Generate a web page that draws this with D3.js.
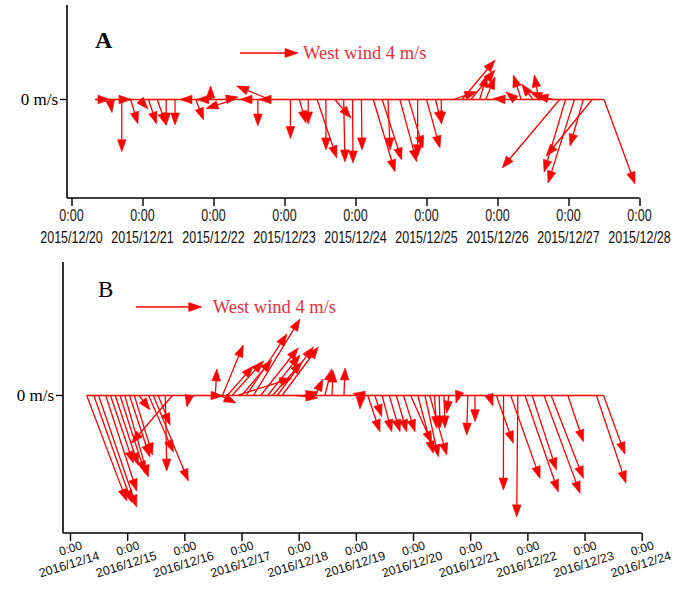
<!DOCTYPE html>
<html><head><meta charset="utf-8">
<script src="https://cdn.jsdelivr.net/npm/d3@7"></script>
<style>body{margin:0;background:#fff}svg{display:block}</style>
</head><body>
<svg id="chart" width="676" height="599"></svg>
<script>
// ---------- Panel A (2015/12/20 – 2015/12/28), hours after 2015/12/20 0:00 ----------
const hoursA = [8,13,16,17,20,23,26,29,32,35, 40,42,46,47,52,55,60,63,66,67, 74,77,80,83,86,89,92,95,98,102,
  105,107,111,114,117,120,123,125,129,132, 135,138,140,147,150,152,156,158,161,163, 165,167,170,173,176,180];
const uA = [1.02,0.14,0.84,0,0.5,0.59,0.57,0.6,0,0, -0.68,0.54,-0.75,0,0.88,-1.94,-0.62,0,-0.53,-2.28,
  0,0.46,0,1.36,0,1.12,0.09,0.03,0.04,1.5, 1.35,0.14,1.16,0.98,0,0.93,0.43,0,1.63,2.28,
  1.66,0.48,0.64,-0.92,-0.64,-0.54,-0.78,-0.32,-1.23,-1.22, -3.97,-1.48,-1.82,-0.92,-3.17,2.14];
const vA = [0,-0.9,0,-3.6,-1.69,-0.66,-1.69,-1.76,-1.76,-1.76, 0,-1.41,0,0.93,0.17,-0.62,0,-1.83,0,0.93,
  -2.69,-1.62,-1.69,-4.03,-3.48,-1.28,-4.31,-4.38,-3.48,-4.98, -4.17,-3.48,-4.29,-3.34,-3.94,-3.34,-1.64,-1.69,0.54,2.72,
  2.03,1.69,1.55,0.07,0.52,1.69,1.07,1.69,0.52,0.24, -4.72,-5.0,-5.76,-3.21,-3.9,-5.83];
const tickLabelsA = ["2015/12/20","2015/12/21","2015/12/22","2015/12/23","2015/12/24","2015/12/25","2015/12/26","2015/12/27","2015/12/28"];

// ---------- Panel B (2016/12/14 – 2016/12/24), hours after 2016/12/14 0:00 ----------
const hoursB = [7,10,12,15,17,19,21,23,25,27, 29,33,35,37,40,43,50,59,61,63, 64,66,68,70,72,74,77,80,83,85,
  87,89,95,98,103,107,110,115,122,124, 125,128,131,134,137,140,143,146,149,151, 153,155,157,159,163,167,170,176,179,182,
  185,188,191,194,199,202,209,221,224];
const uB = [2.44,2.31,2.32,1.89,1.39,1.40,1.52,1.43,1.24,1.11, 0.66,1.51,2.13,0.73,0.09,-2.49,-0.13,0.76,0.09,0.97,
  1.27,1.59,1.91,3.35,1.84,2.48,2.84,2.3,1.97,1.8, 2.2,2.21,1.32,0.89,0.46,0.41,0.06,0.07,-0.04,-0.76,
  0.74,0.41,0.59,0.66,0.63,0.7,1.29,0.94,0.82,1.04, 0.14,0.05,0.06,-0.12,-0.14,-0.07,0.01,0.23,1.03,-0.01,
  1.79,-0.07,2.03,1.48,2.2,1.96,0.95,1.8,1.3];
const vB = [-6.43,-6.52,-6.8,-5.82,-4.12,-4.24,-4.73,-4.97,-3.75,-3.63, -0.88,-3.45,-5.21,-1.81,-4.6,-2.9,-0.7,-0.03,1.62,-0.46,
  3.08,1.8,2.1,1.05,2.16,3.75,4.66,2.9,2.47,2.04, 2.96,2.96,-0.15,0.21,1.0,1.62,1.55,1.68,-0.82,0.12,
  -2.21,-1.29,-2.21,-2.21,-2.21,-2.21,-2.91,-3.52,-3.73,-3.63, -2.0,-1.98,-1.98,-1.07,-0.46,-2.41,-1.6,-0.64,-2.91,-5.76,
  -5.05,-7.39,-5.87,-4.54,-5.96,-5.05,-2.82,-5.34,-3.57];
const tickLabelsB = ["2016/12/14","2016/12/15","2016/12/16","2016/12/17","2016/12/18","2016/12/19","2016/12/20","2016/12/21","2016/12/22","2016/12/23","2016/12/24"];

const legendSpeed = 4;
const RED = "#ff0000";
const svg = d3.select("#chart");
const parse = d3.timeParse("%Y/%m/%d");

function arrow(g, x0, y0, x1, y1, hl, hw, sw) {
  const dx = x1 - x0, dy = y1 - y0, len = Math.hypot(dx, dy) || 1;
  const ux = dx / len, uy = dy / len, px = -uy, py = ux;
  const bx = x1 - ux * hl, by = y1 - uy * hl;
  if (len > hl) g.append("line").attr("x1", x0).attr("y1", y0).attr("x2", bx).attr("y2", by)
      .attr("stroke", RED).attr("stroke-width", sw);
  g.append("path").attr("d", `M${x1},${y1}L${bx + px * hw},${by + py * hw}L${bx - px * hw},${by - py * hw}Z`)
    .attr("fill", RED).attr("stroke", RED).attr("stroke-width", 0.6).attr("stroke-linejoin", "miter");
}

function panel(o) {
  const g = svg.append("g");
  const start = parse(o.labels[0]), end = parse(o.labels[o.labels.length - 1]);
  const x = d3.scaleTime().domain([start, end]).range([o.x0, o.x1]);
  const k = d3.scaleLinear().domain([0, legendSpeed]).range([0, o.legLen]);
  const dates = o.hours.map(h => d3.timeHour.offset(start, h));

  // axes
  g.append("line").attr("x1", o.yAxisX).attr("x2", o.yAxisX).attr("y1", o.yTop).attr("y2", o.axisY)
    .attr("stroke", "#000").attr("stroke-width", 1.6);
  g.append("line").attr("x1", o.yAxisX).attr("x2", o.x1).attr("y1", o.axisY).attr("y2", o.axisY)
    .attr("stroke", "#000").attr("stroke-width", 1.6);
  g.append("line").attr("x1", o.yAxisX - 7).attr("x2", o.yAxisX).attr("y1", o.zero).attr("y2", o.zero)
    .attr("stroke", "#000").attr("stroke-width", 1.4);
  const ax = g.append("g").attr("transform", `translate(0,${o.axisY})`)
    .call(d3.axisBottom(x).tickValues(o.labels.map(parse)).tickSize(8).tickSizeOuter(0).tickFormat(""));
  ax.select(".domain").remove();
  ax.selectAll(".tick line").attr("stroke", "#000").attr("stroke-width", 1.4);

  // tick labels
  o.labels.forEach(l => {
    const tx = x(parse(l));
    if (!o.rotate) {
      g.append("text").attr("transform", `translate(${tx},${o.axisY + 23}) scale(1,1.25)`)
        .attr("text-anchor", "middle").attr("font-family", "Liberation Sans, Arial, sans-serif")
        .attr("font-size", 12.5).attr("fill", "#111").text("0:00");
      g.append("text").attr("transform", `translate(${tx},${o.axisY + 45}) scale(1,1.25)`)
        .attr("text-anchor", "middle").attr("font-family", "Liberation Sans, Arial, sans-serif")
        .attr("font-size", 12.5).attr("fill", "#111").text(l);
    } else {
      const lg = g.append("g").attr("transform", `translate(${tx},${o.axisY + 24}) rotate(-17)`);
      lg.append("text").attr("x", 3).attr("y", -4).attr("text-anchor", "middle")
        .attr("font-family", "Liberation Sans, Arial, sans-serif").attr("font-size", 12).attr("fill", "#111").text("0:00");
      lg.append("text").attr("x", -3).attr("y", 11).attr("text-anchor", "middle")
        .attr("font-family", "Liberation Sans, Arial, sans-serif").attr("font-size", 12.5).attr("fill", "#111").text(l);
    }
  });

  g.append("text").attr("x", o.yAxisX - 9).attr("y", o.zero + 5).attr("text-anchor", "end")
    .attr("font-family", "Liberation Serif, Times New Roman, serif").attr("font-size", 17).attr("fill", "#000").text("0 m/s");

  // panel letter
  g.append("text").attr("x", o.letterX).attr("y", o.letterY)
    .attr("font-family", "Liberation Serif, Times New Roman, serif").attr("font-size", o.letterSize)
    .attr("font-weight", o.letterBold ? "bold" : "normal").attr("fill", "#000").text(o.letter);

  // legend
  const lg = g.append("g");
  arrow(lg, o.legX, o.legY, o.legX + k(legendSpeed), o.legY, 13, 4.5, 1.3);
  g.append("text").attr("x", o.legX + k(legendSpeed) + o.legGap).attr("y", o.legY + 6)
    .attr("font-family", "Liberation Serif, Times New Roman, serif").attr("font-size", 18.5)
    .attr("fill", "#e8303a").text(`West wind ${legendSpeed} m/s`);

  // baseline
  g.append("line").attr("x1", x(dates[0])).attr("x2", x(dates[dates.length - 1]))
    .attr("y1", o.zero).attr("y2", o.zero).attr("stroke", RED).attr("stroke-width", 1.3);

  // vectors
  const vg = g.append("g");
  dates.forEach((d, i) => {
    const x0 = x(d), y0 = o.zero;
    const x1 = x0 + Math.sign(o.u[i]) * k(Math.abs(o.u[i]));
    const y1 = y0 - Math.sign(o.v[i]) * k(Math.abs(o.v[i]));
    arrow(vg, x0, y0, x1, y1, 12, 4.3, 1.3);
  });
}

panel({labels: tickLabelsA, hours: hoursA, u: uA, v: vA, x0: 71.5, x1: 639.5, yAxisX: 67, yTop: 5, axisY: 198,
  zero: 99.5, legLen: 58, legX: 240, legY: 53, legGap: 5, letter: "A", letterX: 95, letterY: 48, letterSize: 24,
  letterBold: true, rotate: false});
panel({labels: tickLabelsB, hours: hoursB, u: uB, v: vB, x0: 70, x1: 641.7, yAxisX: 63, yTop: 262, axisY: 533,
  zero: 395.5, legLen: 65.7, legX: 136, legY: 307, legGap: 11, letter: "B", letterX: 98, letterY: 297, letterSize: 23,
  letterBold: false, rotate: true});
</script>
</body></html>
